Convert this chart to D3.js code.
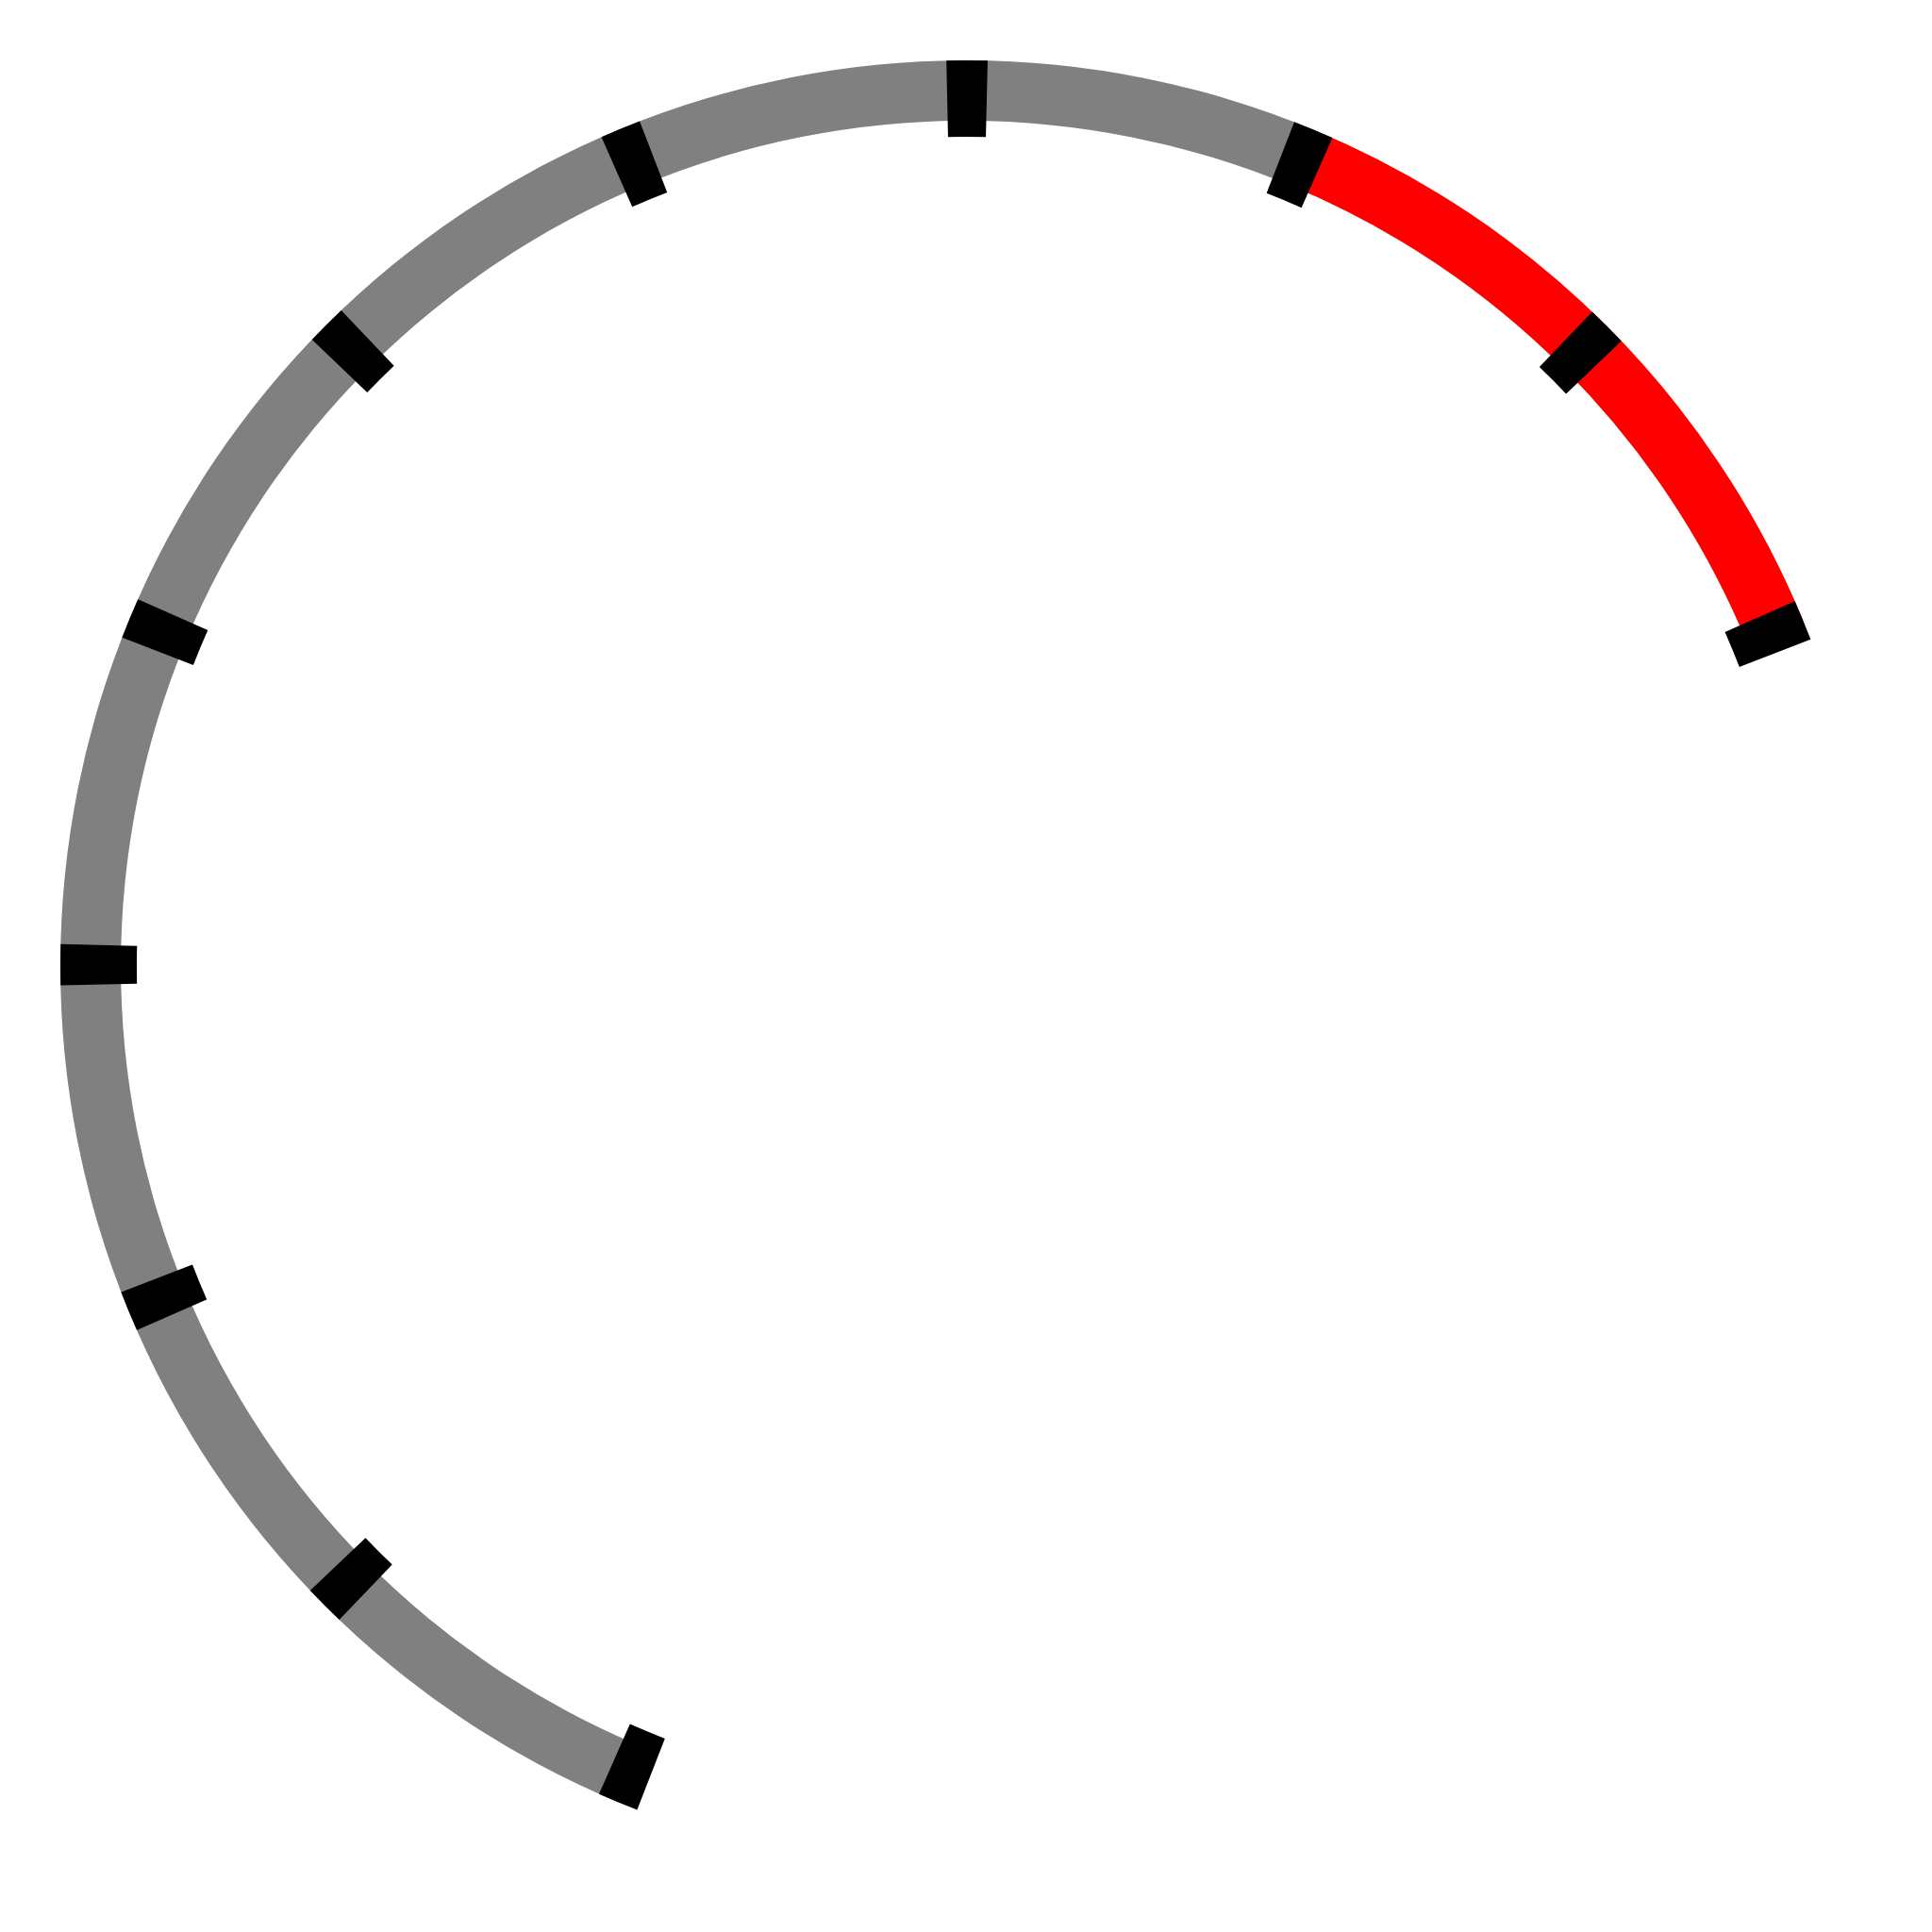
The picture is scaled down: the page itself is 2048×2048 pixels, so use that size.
<!DOCTYPE html>
<html><head><meta charset="utf-8">
<script src="https://cdn.jsdelivr.net/npm/d3@7"></script>
<style>html,body{margin:0;padding:0;background:#fff;}</style>
</head><body>
<script>
// Gauge data
const bandNames = ["normal", "danger"];
const bandStarts = [0, 8];
const bandEnds = [8, 10];
const bandColors = ["#808080", "#ff0000"];
const tickValues = [0, 1, 2, 3, 4, 5, 6, 7, 8, 9, 10];

const W = 2048, H = 2048;
const svg = d3.select("body").append("svg").attr("width", W).attr("height", H);
const g = svg.append("g").attr("transform", "translate(1024,1024)");

const angle = d3.scaleLinear().domain([0, 10])
  .range([-157.4 * Math.PI / 180, 67.55 * Math.PI / 180]);

const bandArc = d3.arc().innerRadius(896).outerRadius(960);
g.selectAll("path.band").data(bandNames).join("path")
  .attr("class", "band")
  .attr("fill", (d, i) => bandColors[i])
  .attr("d", (d, i) => bandArc({startAngle: angle(bandStarts[i]), endAngle: angle(bandEnds[i])}));

const halfW = 0.0228;
const tickArc = d3.arc().innerRadius(879).outerRadius(960);
g.selectAll("path.tick").data(tickValues).join("path")
  .attr("class", "tick")
  .attr("fill", "#000")
  .attr("d", v => tickArc({startAngle: angle(v) - halfW, endAngle: angle(v) + halfW}));
</script>
</body></html>
